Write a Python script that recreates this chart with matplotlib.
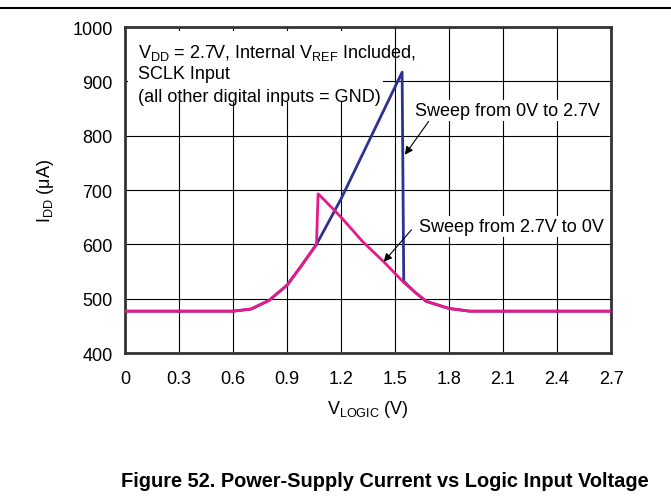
import matplotlib
matplotlib.use('Agg')
import matplotlib.pyplot as plt
from matplotlib.lines import Line2D
from matplotlib.patches import Rectangle

plt.rcParams['font.family'] = ['Liberation Sans', 'DejaVu Sans']
plt.rcParams['mathtext.default'] = 'regular'

# sweep from 0V up to 2.7V
v_up = [0, 0.6, 0.7, 0.8, 0.9, 0.98, 1.063, 1.13, 1.2, 1.539, 1.548, 1.61, 1.674, 1.8, 1.915, 2.7]
i_up = [477, 477, 481, 497, 525, 561, 600, 641, 684, 917, 532, 512, 495, 482, 477, 477]

# sweep from 2.7V down to 0V
v_down = [0, 0.6, 0.7, 0.8, 0.9, 0.98, 1.063, 1.072, 1.091, 1.2, 1.32, 1.437, 1.545, 1.61, 1.674, 1.8, 1.915, 2.7]
i_down = [477, 477, 481, 497, 525, 561, 600, 693, 687, 650, 605, 568, 531, 512, 495, 482, 477, 477]

xticks = [0, 0.3, 0.6, 0.9, 1.2, 1.5, 1.8, 2.1, 2.4, 2.7]
yticks = [400, 500, 600, 700, 800, 900, 1000]

fig = plt.figure(figsize=(6.71, 5.02), dpi=100)
ax = fig.add_axes([0.1866, 0.2948, 0.724, 0.6492])

ax.plot(v_up, i_up, color='#2E3192', lw=2.0, zorder=3)
ax.plot(v_down, i_down, color='#E8198B', lw=2.0, zorder=4)

ax.set_xlim(0, 2.7)
ax.set_ylim(400, 1000)
ax.set_xticks(xticks)
ax.set_xticklabels(['0', '0.3', '0.6', '0.9', '1.2', '1.5', '1.8', '2.1', '2.4', '2.7'])
ax.set_yticks(yticks)
ax.grid(True, color='black', lw=0.8)
ax.set_axisbelow(True)
ax.tick_params(axis='both', length=0, labelsize=13)
ax.tick_params(axis='x', pad=12)
ax.tick_params(axis='y', pad=9)
for sp in ax.spines.values():
    sp.set_linewidth(2.0)
    sp.set_color('#333333')

ax.set_xlabel('V$_{LOGIC}$ (V)', fontsize=13, labelpad=8)
ax.set_ylabel('I$_{DD}$ (μA)', fontsize=13, labelpad=12)

# white block behind the conditions text
ax.add_patch(Rectangle((0.015, 863), 1.415, 130, facecolor='white', edgecolor='none', zorder=2))
ax.text(0.07, 955, 'V$_{DD}$ = 2.7V, Internal V$_{REF}$ Included,', fontsize=13, va='center', zorder=5)
ax.text(0.07, 915, 'SCLK Input', fontsize=13, va='center', zorder=5)
ax.text(0.07, 873, '(all other digital inputs = GND)', fontsize=13, va='center', zorder=5)

box = dict(facecolor='white', edgecolor='none', pad=1.5)
ax.annotate('Sweep from 0V to 2.7V', xy=(1.554, 765), xytext=(1.613, 846),
            fontsize=13, va='center', ha='left', bbox=box, zorder=6,
            arrowprops=dict(arrowstyle='-|>', color='black', lw=0.8, mutation_scale=12,
                            shrinkA=0, shrinkB=0, relpos=(0.08, 0.0)))
ax.annotate('Sweep from 2.7V to 0V', xy=(1.437, 568), xytext=(1.632, 633),
            fontsize=13, va='center', ha='left', bbox=box, zorder=6,
            arrowprops=dict(arrowstyle='-|>', color='black', lw=0.8, mutation_scale=12,
                            shrinkA=0, shrinkB=0, relpos=(-0.04, 0.3)))

fig.add_artist(Line2D([0, 1], [0.983, 0.983], transform=fig.transFigure, color='black', lw=1.5))
fig.text(0.574, 1 - 482 / 502, 'Figure 52. Power-Supply Current vs Logic Input Voltage',
         fontsize=14.4, fontweight='bold', ha='center', va='center')

fig.savefig('out.png', dpi=100)
